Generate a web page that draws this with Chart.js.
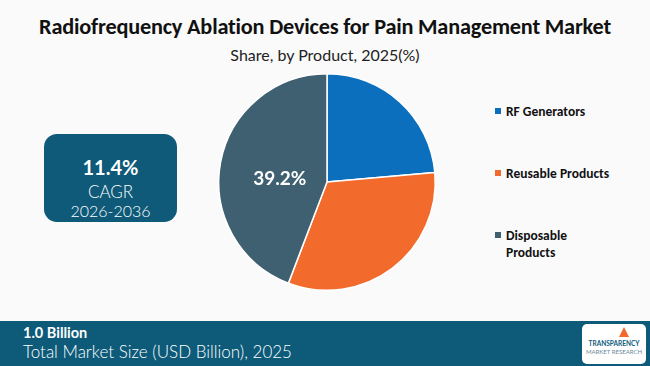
<!DOCTYPE html>
<html>
<head>
<meta charset="utf-8">
<script src="https://cdn.jsdelivr.net/npm/chart.js@4.4.1/dist/chart.umd.min.js"></script>
<style>
  html, body { margin: 0; padding: 0; }
  body {
    width: 650px; height: 366px; position: relative; overflow: hidden;
    background: #fafafa; font-family: Lato, "Open Sans", sans-serif;
  }
  .titulo {
    position: absolute; left: 0; width: 650px; top: 13px; text-align: center;
    font-family: Carlito, Lato, sans-serif; font-weight: 700; font-size: 22.3px; color: #111;
    letter-spacing: -0.2px;
  }
  .subtitulo {
    position: absolute; left: 0; width: 650px; top: 45px; text-align: center;
    font-size: 16px; color: #222;
  }
  .cagr {
    position: absolute; left: 44px; top: 134px; width: 133px; height: 88px;
    background: #0e5a78; border-radius: 13px; color: #fff; text-align: center;
  }
  .cagr .v { position: absolute; top: 21px; width: 100%; font-weight: 700; font-size: 20px; }
  .cagr .c { position: absolute; top: 47px; width: 100%; font-size: 17px; font-weight: 300; }
  .cagr .a { position: absolute; top: 67px; width: 100%; font-size: 16px; font-weight: 300; }
  #area { position: absolute; left: 212px; top: 67px; width: 230px; height: 230px; }
  .legenda { position: absolute; left: 495px; top: 0; font-family: Carlito, Lato, sans-serif; }
  .item { position: absolute; left: 0; white-space: nowrap; font-weight: 700; font-size: 13.5px; color: #111; line-height: 17px; }
  .item i { position: absolute; left: 0; top: 5px; width: 6px; height: 6px; }
  .item span { display: block; margin-left: 11px; }
  .rodape {
    position: absolute; left: 0; top: 321px; width: 650px; height: 45px; background: #0d5a79; color: #fff;
  }
  .rodape .b { position: absolute; left: 23px; top: 3px; font-weight: 700; font-size: 14.5px; }
  .rodape .t { position: absolute; left: 23px; top: 20px; font-size: 17px; font-weight: 300; }
  .logo {
    position: absolute; left: 582px; top: 3px; width: 64px; height: 40px; background: #fff; border-radius: 5px;
    text-align: center; color: #0d5a79; font-size: 6px; font-weight: 700;
  }
  .logo .seta {
    position: absolute; left: 37px; top: 3px; width: 0; height: 0;
    border-left: 5px solid transparent; border-right: 5px solid transparent; border-bottom: 10px solid #f26b2c;
  }
  .logo .l1 { position: absolute; top: 16px; width: 100%; font-size: 6.5px; }
  .logo .l2 { position: absolute; top: 24px; width: 100%; font-weight: 400; color: #6a8a9a; }
</style>
</head>
<body>
<div class="titulo">Radiofrequency Ablation Devices for Pain Management Market</div>
<div class="subtitulo">Share, by Product, 2025(%)</div>

<div class="cagr">
  <div class="v">11.4%</div>
  <div class="c">CAGR</div>
  <div class="a">2026-2036</div>
</div>

<div id="area"><canvas id="grafico-pizza"></canvas></div>

<div class="legenda" id="legenda"></div>

<div class="rodape">
  <div class="b">1.0 Billion</div>
  <div class="t">Total Market Size (USD Billion), 2025</div>
  <div class="logo"><div class="seta"></div><div class="l1">TRANSPARENCY</div><div class="l2">MARKET RESEARCH</div></div>
</div>

<script>
// dados
const categorias = ['RF Generators', 'Reusable Products', 'Disposable Products'];
const valores = [23.6, 32.2, 44.2];
const rotulos = ['', '', '39.2%'];
const cores = ['#0b6fbe', '#f26b2c', '#3e6070'];

// legenda em html (quebra de linha no último item)
const legendaLinhas = [['RF Generators'], ['Reusable Products'], ['Disposable', 'Products']];
const legendaTopo = [103, 165, 227];
const legenda = document.getElementById('legenda');
legendaLinhas.forEach(function (linhas, i) {
    const div = document.createElement('div');
    div.className = 'item';
    div.style.top = legendaTopo[i] + 'px';
    div.innerHTML = '<i style="background:' + cores[i] + '"></i><span>' + linhas.join('<br>') + '</span>';
    legenda.appendChild(div);
});

// rótulo dentro da fatia
const rotuloPlugin = {
    id: 'rotuloFatia',
    afterDatasetsDraw(chart) {
        const ctx = chart.ctx;
        const meta = chart.getDatasetMeta(0);
        ctx.save();
        ctx.fillStyle = '#ffffff';
        ctx.font = 'bold 19px Lato, sans-serif';
        ctx.textAlign = 'center';
        ctx.textBaseline = 'middle';
        meta.data.forEach(function (arc, i) {
            if (!rotulos[i]) return;
            const p = arc.tooltipPosition();
            ctx.fillText(rotulos[i], p.x + 6, p.y + 7);
        });
        ctx.restore();
    }
};

const ctxPizza = document.getElementById('grafico-pizza').getContext('2d');
const graficoPizza = new Chart(ctxPizza, {
    type: 'pie',
    data: {
        labels: categorias,
        datasets: [{
            data: valores,
            backgroundColor: cores,
            borderColor: '#ffffff',
            borderWidth: 1.5
        }]
    },
    options: {
        responsive: true,
        maintainAspectRatio: false,
        animation: false,
        layout: { padding: 6 },
        plugins: {
            legend: { display: false },
            tooltip: { enabled: false }
        }
    },
    plugins: [rotuloPlugin]
});
</script>
</body>
</html>
